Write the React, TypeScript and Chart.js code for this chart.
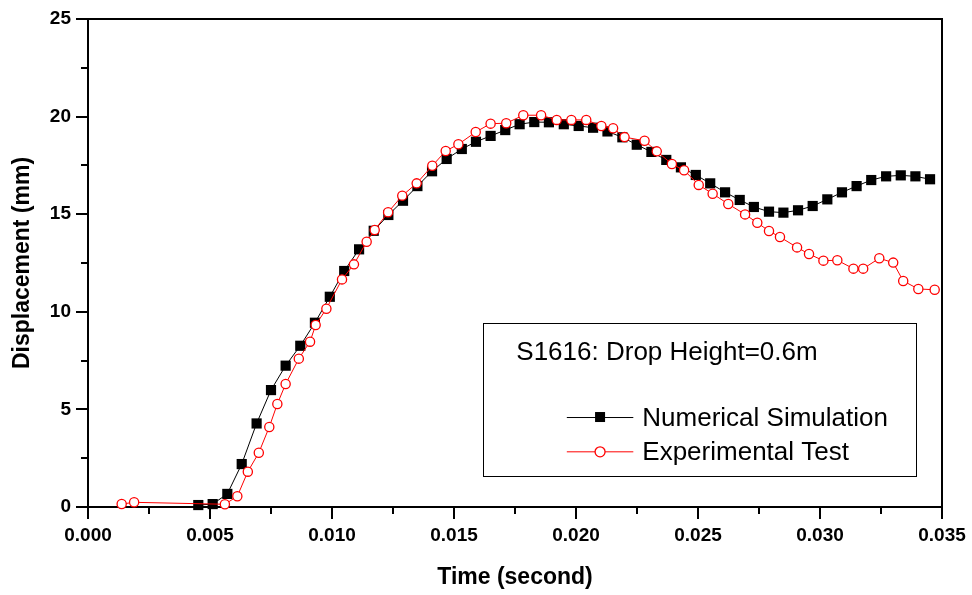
import React, { useEffect, useRef } from "react";
import { Chart, registerables } from "chart.js";

Chart.register(...registerables);

// ---- Data ----
const simTime = [
  0.00452, 0.00511, 0.00571, 0.0063, 0.00691, 0.0075, 0.0081, 0.0087, 0.0093, 0.00991,
  0.0105, 0.01111, 0.01171, 0.01231, 0.01291, 0.0135, 0.0141, 0.0147, 0.01532, 0.0159,
  0.0165, 0.0171, 0.01769, 0.01829, 0.01889, 0.0195, 0.02011, 0.0207, 0.02129, 0.0219,
  0.02249, 0.02309, 0.0237, 0.0243, 0.02491, 0.0255, 0.02611, 0.02671, 0.02729, 0.02791,
  0.0285, 0.0291, 0.0297, 0.0303, 0.0309, 0.0315, 0.0321, 0.03271, 0.03331, 0.03391,
  0.03451,
];
const simDisp = [
  0.1, 0.15, 0.67, 2.2, 4.28, 5.99, 7.24, 8.26, 9.44, 10.77,
  12.09, 13.2, 14.15, 14.96, 15.69, 16.44, 17.2, 17.83, 18.34, 18.71,
  19.01, 19.31, 19.61, 19.72, 19.71, 19.61, 19.52, 19.43, 19.24, 18.94,
  18.56, 18.19, 17.78, 17.4, 17.01, 16.58, 16.12, 15.73, 15.37, 15.13,
  15.08, 15.2, 15.42, 15.76, 16.12, 16.44, 16.75, 16.94, 16.99, 16.94,
  16.79,
];
const expTime = [
  0.00138, 0.00189, 0.00561, 0.00612, 0.00655, 0.007, 0.00743, 0.00776, 0.0081, 0.00864,
  0.0091, 0.00933, 0.00977, 0.01041, 0.0109, 0.01142, 0.01175, 0.0123, 0.01288, 0.01347,
  0.01411, 0.01466, 0.01518, 0.01589, 0.0165, 0.01714, 0.01784, 0.01857, 0.01921, 0.01981,
  0.02042, 0.02104, 0.02152, 0.02199, 0.02281, 0.02331, 0.02393, 0.02443, 0.02503, 0.0256,
  0.02624, 0.02693, 0.02743, 0.02791, 0.02836, 0.02906, 0.02955, 0.03014, 0.03071, 0.03137,
  0.03177, 0.03243, 0.033, 0.03341, 0.03403, 0.0347,
];
const expDisp = [
  0.15, 0.24, 0.14, 0.55, 1.81, 2.78, 4.1, 5.28, 6.3, 7.6,
  8.47, 9.32, 10.16, 11.66, 12.43, 13.59, 14.19, 15.1, 15.95, 16.58,
  17.48, 18.24, 18.58, 19.21, 19.64, 19.66, 20.07, 20.07, 19.83, 19.83,
  19.83, 19.52, 19.4, 18.95, 18.76, 18.22, 17.57, 17.25, 16.5, 16.05,
  15.52, 14.99, 14.56, 14.14, 13.83, 13.3, 12.96, 12.62, 12.64, 12.21,
  12.21, 12.74, 12.52, 11.58, 11.17, 11.13,
];

const xMin = 0;
const xMax = 0.035;
const xStep = 0.005;
const yMin = 0;
const yMax = 25;
const yStep = 5;

const seriesNames = ["Numerical Simulation", "Experimental Test"];
const legendTitle = "S1616: Drop Height=0.6m";
const xTitle = "Time (second)";
const yTitle = "Displacement (mm)";

const FONT = "'Liberation Sans', Arial, Helvetica, sans-serif";

const framePlugin = {
  id: "frame",
  beforeDatasetsDraw(chart: any) {
    const { ctx, chartArea: ca, scales } = chart;
    const xs = scales.x;
    const ys = scales.y;
    ctx.save();
    ctx.strokeStyle = "#000";
    ctx.lineWidth = 2;
    ctx.strokeRect(ca.left, ca.top, ca.right - ca.left, ca.bottom - ca.top);
    ctx.beginPath();
    for (let i = 0; i <= Math.round((xMax - xMin) / (xStep / 2)); i++) {
      const v = xMin + (i * xStep) / 2;
      const px = Math.round(xs.getPixelForValue(v));
      const len = i % 2 === 0 ? 12 : 7;
      ctx.moveTo(px, ca.bottom);
      ctx.lineTo(px, ca.bottom + len);
    }
    for (let i = 0; i <= Math.round((yMax - yMin) / (yStep / 2)); i++) {
      const v = yMin + (i * yStep) / 2;
      const py = Math.round(ys.getPixelForValue(v));
      const len = i % 2 === 0 ? 12 : 7;
      ctx.moveTo(ca.left, py);
      ctx.lineTo(ca.left - len, py);
    }
    ctx.stroke();
    ctx.restore();
  },
};

const legendPlugin = {
  id: "boxLegend",
  afterDraw(chart: any) {
    const { ctx, chartArea: ca } = chart;
    const w = ca.right - ca.left;
    const h = ca.bottom - ca.top;
    const bx = ca.left + 0.4629 * w;
    const by = ca.top + 0.623 * h;
    const bw = 0.5074 * w;
    const bh = 0.313 * h;
    ctx.save();
    ctx.fillStyle = "#fff";
    ctx.fillRect(bx, by, bw, bh);
    ctx.strokeStyle = "#000";
    ctx.lineWidth = 1;
    ctx.strokeRect(Math.round(bx) + 0.5, Math.round(by) + 0.5, Math.round(bw), Math.round(bh));
    ctx.fillStyle = "#000";
    ctx.font = `26px ${FONT}`;
    ctx.textBaseline = "alphabetic";
    ctx.textAlign = "left";
    ctx.fillText(legendTitle, bx + 33, by + 37);

    const lx0 = bx + 83.5;
    const lx1 = bx + 150;
    const mx = (lx0 + lx1) / 2;
    const rows = [by + 94, by + 128.3];
    ctx.strokeStyle = "#000";
    ctx.beginPath();
    ctx.moveTo(lx0, rows[0] + 0.5);
    ctx.lineTo(lx1, rows[0] + 0.5);
    ctx.stroke();
    ctx.fillStyle = "#000";
    ctx.fillRect(mx - 5, rows[0] - 5, 10, 10);
    ctx.strokeStyle = "#ff0000";
    ctx.beginPath();
    ctx.moveTo(lx0, rows[1] + 0.5);
    ctx.lineTo(lx1, rows[1] + 0.5);
    ctx.stroke();
    ctx.fillStyle = "#fff";
    ctx.lineWidth = 1.3;
    ctx.beginPath();
    ctx.arc(mx, rows[1] + 0.5, 5, 0, Math.PI * 2);
    ctx.fill();
    ctx.stroke();

    ctx.fillStyle = "#000";
    ctx.fillText(seriesNames[0], bx + 159, rows[0] + 9);
    ctx.fillText(seriesNames[1], bx + 159, rows[1] + 9);
    ctx.restore();
  },
};

export default function App() {
  const ref = useRef<HTMLCanvasElement | null>(null);

  useEffect(() => {
    if (!ref.current) return;
    const chart = new Chart(ref.current, {
      type: "line",
      data: {
        datasets: [
          {
            label: seriesNames[0],
            data: simTime.map((t, i) => ({ x: t, y: simDisp[i] })),
            borderColor: "#000",
            borderWidth: 1,
            backgroundColor: "#000",
            pointStyle: "rect",
            pointRadius: 7.2,
            pointBorderWidth: 0,
            pointBackgroundColor: "#000",
            tension: 0,
            order: 1,
            clip: false,
          },
          {
            label: seriesNames[1],
            data: expTime.map((t, i) => ({ x: t, y: expDisp[i] })),
            borderColor: "#ff0000",
            borderWidth: 1,
            backgroundColor: "#fff",
            pointStyle: "circle",
            pointRadius: 4.6,
            pointBorderWidth: 1.3,
            pointBorderColor: "#ff0000",
            pointBackgroundColor: "#fff",
            tension: 0,
            order: 0,
            clip: false,
          },
        ],
      },
      options: {
        animation: false,
        responsive: false,
        maintainAspectRatio: false,
        layout: { padding: { left: 0, top: 19, right: 30, bottom: 0 } },
        plugins: {
          legend: { display: false },
          tooltip: { enabled: false },
          title: { display: false },
        },
        scales: {
          x: {
            type: "linear",
            min: xMin,
            max: xMax,
            grid: { display: false, drawTicks: false },
            border: { display: false },
            afterFit: (s: any) => {
              s.height = 88;
              s.paddingLeft = 0;
              s.paddingRight = 0;
            },
            ticks: {
              stepSize: xStep,
              padding: 17,
              color: "#000",
              font: { family: FONT, size: 19, weight: "bold" },
              callback: (v: any) => Number(v).toFixed(3),
            },
            title: {
              display: true,
              text: xTitle,
              color: "#000",
              font: { family: FONT, size: 23, weight: "bold" },
              padding: { top: 0, bottom: 4 },
            },
          },
          y: {
            type: "linear",
            min: yMin,
            max: yMax,
            grid: { display: false, drawTicks: false },
            border: { display: false },
            afterFit: (s: any) => {
              s.width = 88;
              s.paddingTop = 0;
              s.paddingBottom = 0;
            },
            ticks: {
              stepSize: yStep,
              padding: 17,
              color: "#000",
              font: { family: FONT, size: 19, weight: "bold" },
            },
            title: {
              display: true,
              text: yTitle,
              color: "#000",
              font: { family: FONT, size: 23, weight: "bold" },
              padding: { top: 9, bottom: 0 },
            },
          },
        },
      },
      plugins: [framePlugin, legendPlugin],
    });
    return () => chart.destroy();
  }, []);

  return (
    <div style={{ position: "fixed", left: 0, top: 0, width: 972, height: 595, background: "#fff" }}>
      <canvas ref={ref} width={972} height={595} style={{ width: 972, height: 595, display: "block" }} />
    </div>
  );
}
